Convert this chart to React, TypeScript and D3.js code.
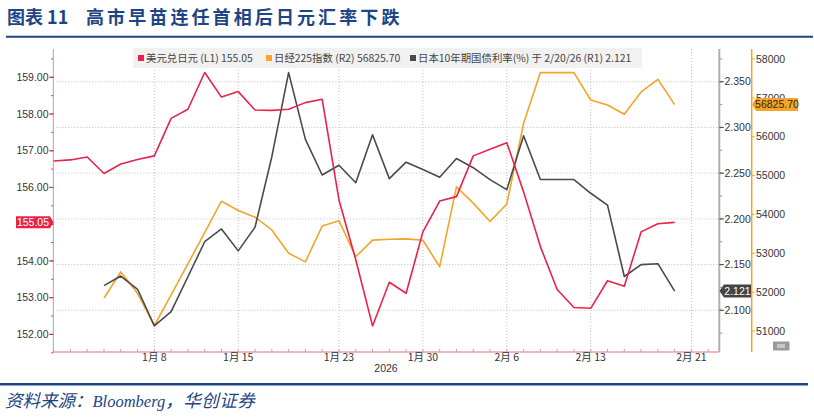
import React from "react";
import * as d3 from "d3";

const W = 814;
const H = 417;

// trading days shown on the chart
const dates = [
  "2025-12-31", "2026-01-01", "2026-01-02", "2026-01-05", "2026-01-06", "2026-01-07", "2026-01-08", "2026-01-09",
  "2026-01-12", "2026-01-13", "2026-01-14", "2026-01-15", "2026-01-16", "2026-01-19", "2026-01-20", "2026-01-21",
  "2026-01-22", "2026-01-23", "2026-01-26", "2026-01-27", "2026-01-28", "2026-01-29", "2026-01-30", "2026-02-02",
  "2026-02-03", "2026-02-04", "2026-02-05", "2026-02-06", "2026-02-09", "2026-02-10", "2026-02-11", "2026-02-12",
  "2026-02-13", "2026-02-16", "2026-02-17", "2026-02-18", "2026-02-19", "2026-02-20",
];

const usdJpy = [
  156.72, 156.75, 156.83, 156.38, 156.64, 156.76, 156.86, 157.88, 158.13, 159.13,
  158.46, 158.61, 158.11, 158.1, 158.13, 158.31, 158.4, 155.66, 154.03, 152.23,
  153.42, 153.12, 154.79, 155.63, 155.75, 156.86, 157.04, 157.22, 155.88, 154.39,
  153.22, 152.73, 152.71, 153.46, 153.31, 154.79, 155.01, 155.05,
];

const nikkei = [
  null, null, null,
  51850, 52520, 51970, 51140, 51930, 52730, 53530, 54340, 54100, 53930,
  53600, 53000, 52780, 53700, 53840, 52910, 53340, 53360, 53370, 53335,
  52655, 54710, 54290, 53820, 54270, 56345, 57650, 57650, 57650, 56945,
  56816, 56577, 57151, 57478, 56825.7,
];

const jgb10y = [
  null, null, null,
  2.127, 2.1375, 2.123, 2.083, 2.0985, 2.1367, 2.175, 2.189, 2.165, 2.191,
  2.268, 2.36, 2.287, 2.248, 2.2586, 2.2395, 2.292, 2.244, 2.262, 2.254,
  2.2455, 2.266, 2.256, 2.243, 2.232, 2.291, 2.243, 2.243, 2.243, 2.228,
  2.215, 2.137, 2.15, 2.151, 2.121,
];

const tickDates = ["2026-01-08", "2026-01-15", "2026-01-23", "2026-01-30", "2026-02-06", "2026-02-13", "2026-02-21"];
const tickLabels = ["1月 8", "1月 15", "1月 23", "1月 30", "2月 6", "2月 13", "2月 21"];
const leftTicks = [152, 153, 154, 155, 156, 157, 158, 159];
const r1Ticks = [2.1, 2.15, 2.2, 2.25, 2.3, 2.35];
const r2Ticks = [51000, 52000, 53000, 54000, 55000, 56000, 57000, 58000];

const RED = "#e8234a";
const ORANGE = "#f2a52a";
const GREY = "#4a4a4a";
const BLUE = "#1d4585";

const L = 53.3;
const R1X = 719.3;
const R2X = 751.7;
const TOP = 49;
const BOTTOM = 352;

const x = d3.scaleLinear().domain([-0.02, 39.66]).range([L, R1X]);
const yL = d3.scaleLinear().domain([151.52, 159.77]).range([BOTTOM, TOP]);
const yR1 = d3.scaleLinear().domain([2.0544, 2.3858]).range([BOTTOM, TOP]);
const yR2 = d3.scaleLinear().domain([50460, 58257]).range([BOTTOM, TOP]);

const tickIndex = (d: string) => {
  const i = dates.findIndex((t) => t >= d);
  return i < 0 ? dates.length : i;
};

const mkLine = (y: d3.ScaleLinear<number, number>) =>
  d3
    .line<number | null>()
    .defined((d) => d != null)
    .x((_, i) => x(i))
    .y((d) => y(d as number));

const axisFont = "'Liberation Sans', Arial, sans-serif";
const cjkFont = "'Noto Sans CJK SC', 'Liberation Sans', sans-serif";

export default function App() {
  const last = usdJpy.length - 1;
  const lastUsd = usdJpy[last];
  const lastNk = nikkei[last] as number;
  const lastJgb = jgb10y[last] as number;

  return (
    <div style={{ position: "absolute", left: 0, top: 0, background: "#fff" }}>
      <svg width={W} height={H} viewBox={`0 0 ${W} ${H}`} style={{ display: "block" }}>
        <rect width={W} height={H} fill="#fff" />

        {/* title */}
        <text x={7} y={24} fill={BLUE} fontFamily={cjkFont} fontWeight="bold" fontSize={18}>
          图表 11
        </text>
        <text x={86} y={24} fill={BLUE} fontFamily={cjkFont} fontWeight="bold" fontSize={18} letterSpacing={3.1}>
          高市早苗连任首相后日元汇率下跌
        </text>
        <line x1={6} x2={813} y1={36.7} y2={36.7} stroke={BLUE} strokeWidth={2} />

        {/* grid */}
        <g stroke="#bdbdbd" strokeWidth={1} strokeDasharray="1,2">
          {r1Ticks.map((t) => (
            <line key={t} x1={L} x2={R1X} y1={yR1(t)} y2={yR1(t)} />
          ))}
          {tickDates.map((d) => (
            <line key={d} x1={x(tickIndex(d))} x2={x(tickIndex(d))} y1={TOP} y2={BOTTOM} />
          ))}
        </g>

        {/* legend */}
        <rect x={133} y={48} width={509} height={20} fill="#f1f1f1" />
        <g fontFamily={cjkFont} fontSize={10.4} fill="#444">
          <rect x={138} y={55} width={6} height={6} fill={RED} />
          <text x={146} y={61.5}>美元兑日元 (L1) 155.05</text>
          <rect x={266} y={55} width={6} height={6} fill={ORANGE} />
          <text x={274} y={61.5}>日经225指数 (R2) 56825.70</text>
          <rect x={410} y={55} width={6} height={6} fill={GREY} />
          <text x={418} y={61.5}>日本10年期国债利率(%) 于 2/20/26 (R1) 2.121</text>
        </g>

        {/* left axis */}
        <line x1={L} x2={L} y1={TOP} y2={BOTTOM} stroke="#b9a0a4" strokeWidth={1} />
        {d3.range(151.5, 159.8, 0.5).map((t) => (
          <line key={t} x1={L - 2} x2={L} y1={yL(t)} y2={yL(t)} stroke={RED} strokeWidth={1} />
        ))}
        {leftTicks.map((t) => (
          <g key={t}>
            <line x1={L - 4} x2={L} y1={yL(t)} y2={yL(t)} stroke={RED} strokeWidth={1.2} />
            {Math.abs(yL(t) - yL(usdJpy[usdJpy.length - 1])) > 8 && (
              <text x={48.5} y={yL(t)} dy="0.35em" textAnchor="end" fontFamily={axisFont} fontSize={10.5} fill="#333">
                {t.toFixed(2)}
              </text>
            )}
          </g>
        ))}

        {/* bottom axis */}
        <line x1={L} x2={R1X} y1={BOTTOM} y2={BOTTOM} stroke="#e07080" strokeWidth={1} />
        {d3.range(0, 40).map((i) => (
          <line key={i} x1={x(i)} x2={x(i)} y1={BOTTOM - 3} y2={BOTTOM} stroke="#c8a0a8" strokeWidth={1} />
        ))}
        {tickDates.map((d, i) => (
          <text key={d} x={x(tickIndex(d))} y={361} textAnchor="middle" fontFamily={cjkFont} fontSize={10.5} fill="#333">
            {tickLabels[i]}
          </text>
        ))}
        <text x={386} y={371.5} textAnchor="middle" fontFamily={axisFont} fontSize={10.5} fill="#333">
          2026
        </text>

        {/* right axis R1 */}
        <line x1={R1X} x2={R1X} y1={TOP} y2={BOTTOM} stroke="#b0b0b0" strokeWidth={2} />
        {d3.range(2.075, 2.38, 0.025).map((t) => (
          <line key={t} x1={R1X} x2={R1X + 3} y1={yR1(t)} y2={yR1(t)} stroke="#999" strokeWidth={1} />
        ))}
        {r1Ticks.map((t) => (
          <g key={t}>
            <line x1={R1X} x2={R1X + 4.5} y1={yR1(t)} y2={yR1(t)} stroke="#555" strokeWidth={1.2} />
            <text x={724.5} y={yR1(t)} dy="0.35em" fontFamily={axisFont} fontSize={10.5} fill="#333">
              {t.toFixed(3)}
            </text>
          </g>
        ))}

        {/* right axis R2 */}
        <line x1={R2X} x2={R2X} y1={TOP} y2={BOTTOM} stroke={ORANGE} strokeWidth={1.5} />
        {r2Ticks.map((t) => (
          <g key={t}>
            <line x1={R2X} x2={R2X + 3} y1={yR2(t)} y2={yR2(t)} stroke={ORANGE} strokeWidth={1} />
            <text x={756} y={yR2(t)} dy="0.35em" fontFamily={axisFont} fontSize={10.5} fill="#333">
              {t}
            </text>
          </g>
        ))}

        {/* series */}
        <g fill="none" strokeWidth={1.6} strokeLinejoin="round">
          <path d={mkLine(yR2)(nikkei) ?? ""} stroke={ORANGE} />
          <path d={mkLine(yR1)(jgb10y) ?? ""} stroke={GREY} />
          <path d={mkLine(yL)(usdJpy) ?? ""} stroke={RED} />
        </g>

        {/* last value tags */}
        <g fontFamily={axisFont} fontSize={10.5}>
          <path
            d={`M16,${yL(lastUsd) - 6} H50 L53.5,${yL(lastUsd)} L50,${yL(lastUsd) + 6} H16 Z`}
            fill={RED}
          />
          <text x={33} y={yL(lastUsd)} dy="0.36em" textAnchor="middle" fill="#fff">
            {lastUsd.toFixed(2)}
          </text>
          <path
            d={`M752,${yR2(lastNk)} L756,${yR2(lastNk) - 6.5} H798 V${yR2(lastNk) + 6.5} H756 Z`}
            fill={ORANGE}
          />
          <text x={777} y={yR2(lastNk)} dy="0.36em" textAnchor="middle" fill="#3a2400">
            {lastNk.toFixed(2)}
          </text>
          <path
            d={`M719.5,${yR1(lastJgb)} L724,${yR1(lastJgb) - 6.5} H751 V${yR1(lastJgb) + 6.5} H724 Z`}
            fill="#444"
          />
          <text x={737.5} y={yR1(lastJgb)} dy="0.36em" textAnchor="middle" fill="#fff">
            {lastJgb.toFixed(3)}
          </text>
        </g>

        {/* small icon */}
        <rect x={773} y={341.5} width={16.5} height={9} fill="#9a9a9a" />
        <rect x={777} y={344} width={8} height={4} fill="#c8c8c8" />

        {/* source */}
        <line x1={0} x2={808} y1={384.3} y2={384.3} stroke={BLUE} strokeWidth={2.5} />
        <text x={5} y={407} fill={BLUE} fontFamily="'Liberation Serif', 'Noto Sans CJK SC', serif" fontStyle="italic">
          <tspan fontSize={17.5}>资料来源：</tspan>
          <tspan fontSize={16.5}>Bloomberg</tspan>
          <tspan fontSize={17.5} letterSpacing={0.5}>，华创证券</tspan>
        </text>
      </svg>
    </div>
  );
}
